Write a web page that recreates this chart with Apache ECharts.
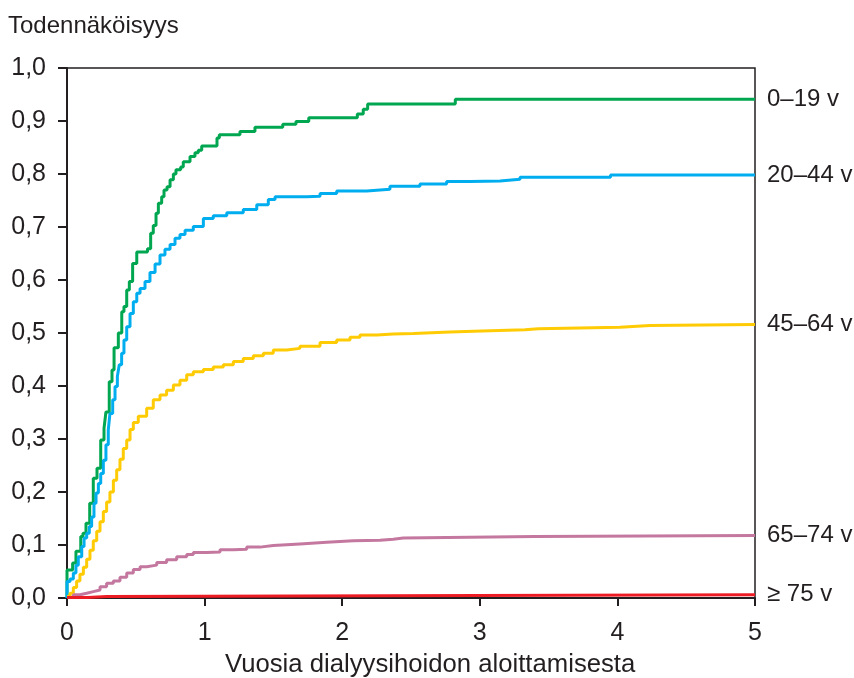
<!DOCTYPE html>
<html>
<head>
<meta charset="utf-8">
<script src="https://cdn.jsdelivr.net/npm/echarts@6/dist/echarts.min.js"></script>
<style>
  html, body { margin: 0; padding: 0; background: #fff; }
  #chart { width: 854px; height: 678px; }
</style>
</head>
<body>
<div id="chart"></div>
<script>
// ikäryhmät (sarjojen nimet)
var groupNames = ['0–19 v', '20–44 v', '45–64 v', '65–74 v', '≥ 75 v'];
var groupColors = ['#00a650', '#00aeef', '#ffcb05', '#c4789f', '#ed1c24'];

// 0–19 v
var t0 = [0, 0, 0.041, 0.065, 0.10, 0.116, 0.138, 0.165, 0.191, 0.218, 0.245, 0.269, 0.283, 0.307, 0.327, 0.342, 0.373, 0.398, 0.414, 0.434, 0.453, 0.477, 0.507, 0.585, 0.608, 0.627, 0.647, 0.664, 0.688, 0.705, 0.727, 0.749, 0.773, 0.792, 0.826, 0.845, 0.894, 0.930, 0.954, 0.979, 1.09, 1.107, 1.257, 1.366, 1.568, 1.664, 1.757, 2.110, 2.153, 2.185, 2.822, 5];
var p0 = [0, 0.053, 0.066, 0.088, 0.116, 0.122, 0.141, 0.179, 0.226, 0.245, 0.298, 0.320, 0.351, 0.408, 0.43, 0.472, 0.500, 0.54, 0.55, 0.581, 0.597, 0.631, 0.653, 0.659, 0.688, 0.703, 0.726, 0.745, 0.757, 0.770, 0.776, 0.789, 0.80, 0.808, 0.813, 0.823, 0.833, 0.840, 0.845, 0.853, 0.868, 0.874, 0.880, 0.888, 0.894, 0.899, 0.906, 0.913, 0.922, 0.932, 0.941, 0.941];

// 20–44 v
var t1 = [0, 0, 0.022, 0.046, 0.065, 0.082, 0.107, 0.124, 0.143, 0.162, 0.179, 0.196, 0.211, 0.228, 0.245, 0.264, 0.283, 0.300, 0.312, 0.332, 0.349, 0.366, 0.380, 0.397, 0.414, 0.434, 0.458, 0.482, 0.507, 0.531, 0.567, 0.603, 0.640, 0.676, 0.712, 0.749, 0.785, 0.821, 0.858, 0.918, 0.991, 1.063, 1.161, 1.281, 1.379, 1.463, 1.512, 1.742, 1.839, 1.960, 2.178, 2.347, 2.565, 2.759, 2.929, 3.147, 3.292, 3.95, 5];
var p1 = [0, 0.031, 0.036, 0.047, 0.062, 0.078, 0.097, 0.113, 0.122, 0.135, 0.153, 0.179, 0.198, 0.216, 0.235, 0.260, 0.289, 0.317, 0.348, 0.374, 0.399, 0.418, 0.440, 0.462, 0.487, 0.512, 0.537, 0.559, 0.575, 0.584, 0.597, 0.614, 0.630, 0.647, 0.658, 0.667, 0.679, 0.686, 0.694, 0.701, 0.716, 0.721, 0.727, 0.733, 0.742, 0.752, 0.757, 0.758, 0.763, 0.768, 0.771, 0.777, 0.781, 0.786, 0.787, 0.790, 0.794, 0.798, 0.798];

// 45–64 v
var t2 = [0, 0.022, 0.046, 0.070, 0.094, 0.119, 0.143, 0.167, 0.191, 0.216, 0.240, 0.264, 0.288, 0.312, 0.337, 0.361, 0.385, 0.409, 0.434, 0.458, 0.482, 0.518, 0.579, 0.627, 0.676, 0.724, 0.773, 0.821, 0.870, 0.918, 0.991, 1.063, 1.136, 1.209, 1.281, 1.354, 1.427, 1.499, 1.597, 1.693, 1.839, 1.960, 2.057, 2.129, 2.251, 2.371, 2.517, 2.783, 3.014, 3.328, 3.425, 4.019, 4.237, 5];
var p2 = [0.003, 0.009, 0.020, 0.032, 0.045, 0.058, 0.073, 0.090, 0.108, 0.126, 0.144, 0.163, 0.181, 0.200, 0.222, 0.242, 0.262, 0.282, 0.298, 0.318, 0.331, 0.343, 0.358, 0.374, 0.383, 0.392, 0.402, 0.411, 0.421, 0.427, 0.431, 0.436, 0.440, 0.446, 0.452, 0.457, 0.462, 0.468, 0.471, 0.475, 0.482, 0.487, 0.492, 0.496, 0.498, 0.499, 0.502, 0.504, 0.506, 0.508, 0.511, 0.514, 0.516, 0.516];

// 65–74 v
var t3 = [0, 0.046, 0.094, 0.143, 0.191, 0.240, 0.288, 0.337, 0.385, 0.434, 0.482, 0.531, 0.579, 0.652, 0.724, 0.797, 0.870, 0.918, 1.015, 1.112, 1.209, 1.306, 1.403, 1.499, 1.693, 1.887, 2.081, 2.275, 2.371, 2.444, 3.40, 5];
var p3 = [0.001, 0.006, 0.009, 0.012, 0.015, 0.021, 0.028, 0.032, 0.039, 0.047, 0.054, 0.059, 0.062, 0.067, 0.072, 0.078, 0.082, 0.086, 0.087, 0.091, 0.092, 0.096, 0.099, 0.102, 0.105, 0.108, 0.109, 0.111, 0.113, 0.116, 0.118, 0.118];

// ≥ 75 v
var t4 = [0, 0.15, 0.29, 5];
var p4 = [0.001, 0.003, 0.006, 0.006];

var xTicks = [0, 1, 2, 3, 4, 5];
var yTicks = [0, 0.1, 0.2, 0.3, 0.4, 0.5, 0.6, 0.7, 0.8, 0.9, 1.0];

var times = [t0, t1, t2, t3, t4];
var probs = [p0, p1, p2, p3, p4];

var textColor = '#231f20';
var fontName = "'Liberation Sans', Arial, sans-serif";

function zip(xs, ys) {
    var out = [];
    var n = Math.min(xs.length, ys.length);
    for (var i = 0; i < n; i++) {
        out.push([xs[i], ys[i]]);
    }
    return out;
}

var seriesList = [];
groupNames.forEach(function (name, index) {
    seriesList.push({
        name: name,
        type: 'line',
        step: 'end',
        showSymbol: false,
        data: zip(times[index], probs[index]),
        lineStyle: { color: groupColors[index], width: 3 },
        itemStyle: { color: groupColors[index] },
        endLabel: {
            show: true,
            formatter: '{a}',
            distance: 12,
            color: textColor,
            fontSize: 24,
            fontFamily: fontName
        },
        z: 3 + index
    });
});

var myChart = echarts.init(document.getElementById('chart'));

var option = {
    animation: false,
    backgroundColor: '#fff',
    textStyle: { fontFamily: fontName },
    grid: {
        left: 67, right: 99, top: 68, bottom: 80,
        show: true,
        borderColor: '#231f20',
        borderWidth: 1.5
    },
    xAxis: {
        type: 'value',
        min: xTicks[0],
        max: xTicks[xTicks.length - 1],
        interval: 1,
        axisLine: { lineStyle: { color: textColor, width: 2 } },
        axisTick: { show: true, length: 8, lineStyle: { color: textColor, width: 2 } },
        axisLabel: { color: textColor, fontSize: 25, margin: 23, fontFamily: fontName },
        splitLine: { show: false }
    },
    yAxis: {
        type: 'value',
        min: yTicks[0],
        max: yTicks[yTicks.length - 1],
        interval: 0.1,
        axisLine: { show: true, lineStyle: { color: textColor, width: 2 } },
        axisTick: { show: true, length: 9, lineStyle: { color: textColor, width: 2 } },
        axisLabel: {
            color: textColor, fontSize: 25, margin: 21, fontFamily: fontName,
            formatter: function (v) { return v.toFixed(1).replace('.', ','); }
        },
        splitLine: { show: false }
    },
    graphic: [
        {
            type: 'text', left: 8, top: 14,
            style: { text: 'Todennäköisyys', fill: textColor, fontSize: 24, fontFamily: fontName }
        },
        {
            type: 'text', left: 225, top: 652,
            style: { text: 'Vuosia dialyysihoidon aloittamisesta', fill: textColor, fontSize: 25.7, fontFamily: fontName }
        }
    ],
    series: seriesList
};

myChart.setOption(option);
</script>
</body>
</html>
